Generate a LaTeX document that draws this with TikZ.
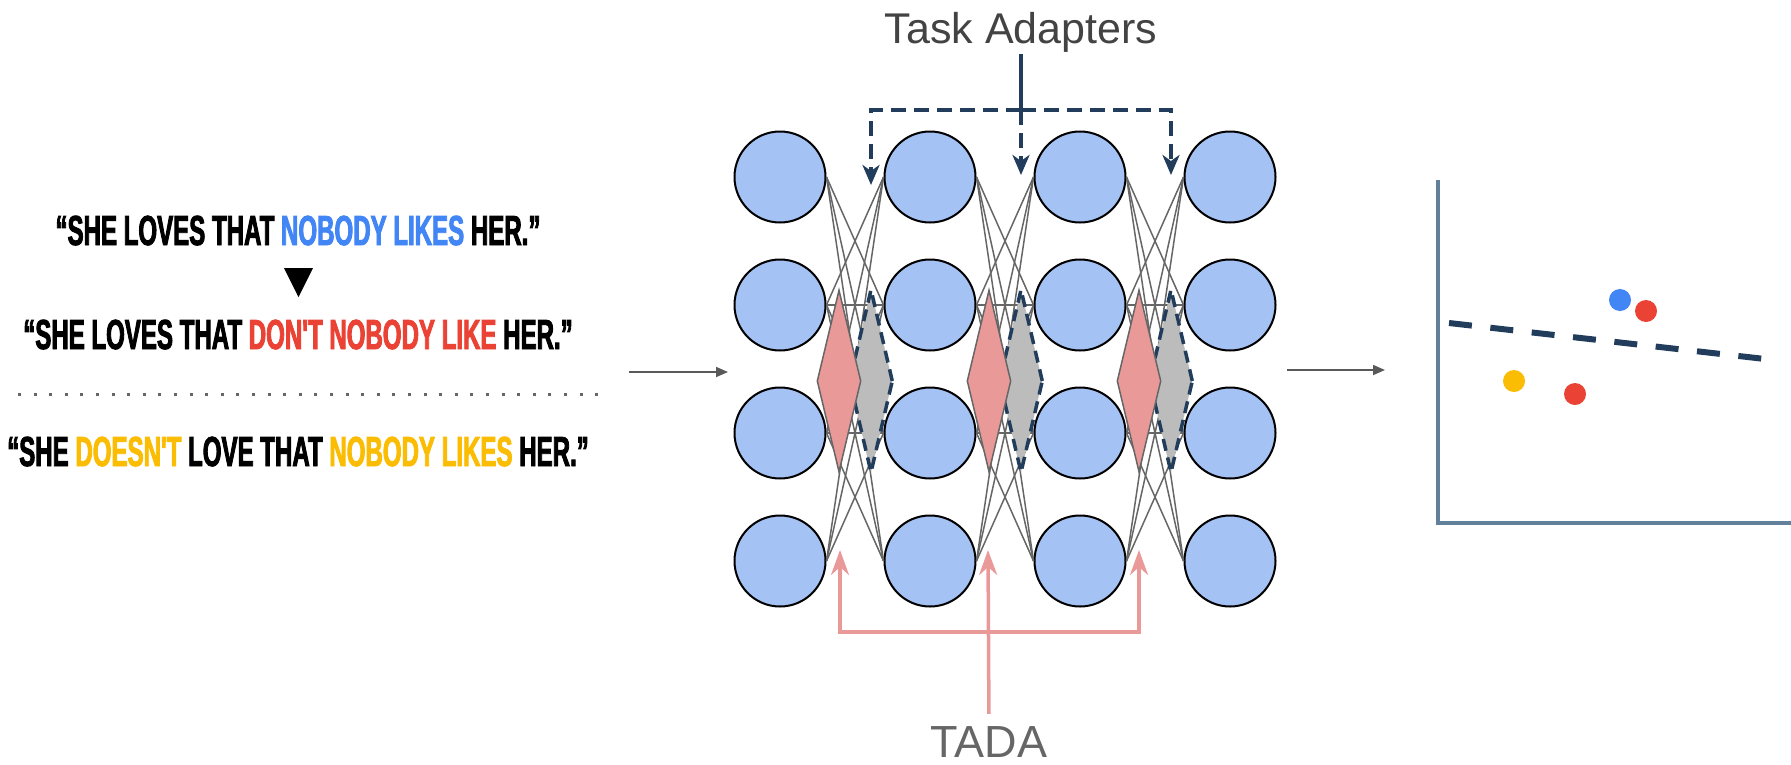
\documentclass[tikz,border=0pt]{standalone}
\usepackage{fontspec}
\setmainfont{Liberation Sans}
\newfontfamily\quotefont[FakeStretch=0.573,FakeBold=2,Ligatures=TeXOff]{Liberation Sans}
\usetikzlibrary{arrows.meta,shapes.geometric,calc}

\definecolor{nodeblue}{HTML}{A4C2F4}
\definecolor{wiregray}{HTML}{666666}
\definecolor{navy}{HTML}{213D5B}
\definecolor{tadapink}{HTML}{EA9999}
\definecolor{adgray}{HTML}{BCBCBC}
\definecolor{axisslate}{HTML}{62809A}
\definecolor{gblue}{HTML}{4285F4}
\definecolor{gred}{HTML}{EA4335}
\definecolor{gyellow}{HTML}{FBBC04}
\definecolor{labelgray}{HTML}{434343}
\definecolor{tadagray}{HTML}{666666}
\definecolor{arrowgray}{HTML}{595959}

\tikzset{
  neuron/.style={circle, draw=black, line width=2pt, fill=nodeblue,
    minimum size=91pt, inner sep=0pt},
  wire/.style={draw=wiregray, line width=1.5pt},
  adapter/.style={diamond, fill=adgray, draw=navy, line width=3.5pt,
    dash pattern=on 12pt off 7pt, minimum width=44pt, minimum height=184pt,
    inner sep=0pt},
  tadabox/.style={diamond, fill=tadapink, draw=wiregray, line width=1.5pt,
    minimum width=44pt, minimum height=182pt, inner sep=0pt},
  quote/.style={font=\quotefont\bfseries\fontsize{42}{48}\selectfont,
    inner sep=0pt, anchor=base},
  navysolid/.style={draw=navy, line width=3.5pt},
  navydash/.style={draw=navy, line width=3.5pt, dash pattern=on 15pt off 8pt,
    -{Stealth[length=20pt, width=17pt, inset=6pt]}},
  pinkline/.style={draw=tadapink, line width=3.5pt},
  pinkarrow/.style={pinkline, -{Stealth[length=25pt, width=18pt, inset=8pt]}},
  flow/.style={draw=arrowgray, line width=1.7pt,
    -{Triangle[length=12pt, width=10pt]}},
  axis/.style={draw=axisslate, line width=3.8pt},
  boundary/.style={draw=navy, line width=6pt, dash pattern=on 23pt off 18.6pt},
  dot/.style={circle, inner sep=0pt, minimum size=22pt},
}

\begin{document}
\begin{tikzpicture}[x=1pt, y=-1pt]
\useasboundingbox (0,0) rectangle (1791,764);

% ---- example sentences ----
\node[quote] (s1) at (298,245)
  {“SHE LOVES THAT \textcolor{gblue}{NOBODY LIKES} HER.”};
\fill (284,268) -- (313,268) -- (298.5,297) -- cycle;
\node[quote] (s2) at (298,349)
  {“SHE LOVES THAT \textcolor{gred}{DON'T NOBODY LIKE} HER.”};
\coordinate (sepL) at (18,394);
\coordinate (sepR) at (598,394);
\draw[draw=wiregray, line width=3pt, dash pattern=on 3pt off 12.6pt] (sepL) -- (sepR);
\node[quote] (s3) at (298,466)
  {“SHE \textcolor{gyellow}{DOESN'T} LOVE THAT \textcolor{gyellow}{NOBODY LIKES} HER.”};

% ---- input arrow ----
\coordinate (inL) at (629,372);
\coordinate (inR) at (728,372);
\draw[flow] (inL) -- (inR);

% ---- network ----
\foreach \c/\x in {1/780,2/930,3/1080,4/1230}
  \foreach \r/\y in {1/177,2/305,3/433,4/561}
    \node[neuron] (n\c\r) at (\x,\y) {};

% dense links between neighbouring layers (no straight top-top / bottom-bottom links)
\foreach \c/\d in {1/2,2/3,3/4}
  \foreach \r/\s in {1/2,1/3,1/4,2/1,2/2,2/3,2/4,3/1,3/2,3/3,3/4,4/1,4/2,4/3}
    \draw[wire] (n\c\r.east) -- (n\d\s.west);

\foreach \i/\x in {1/871,2/1021,3/1171}
  \node[adapter] (ad\i) at (\x,381) {};
\foreach \i/\x in {1/839,2/989,3/1139}
  \node[tadabox] (td\i) at (\x,381) {};

% ---- task adapters ----
\node[font=\fontsize{43}{48}\selectfont, text=labelgray, anchor=base,
  inner sep=2pt] (ta) at (1021,43) {Task Adapters};
\coordinate (tajoin) at (1021,110);
\coordinate (adtip1) at (871,185);
\coordinate (adtip2) at (1021,175);
\coordinate (adtip3) at (1171,175);
\draw[navysolid] (ta.south) -- (tajoin);
\draw[navydash] (tajoin) -| (adtip1);
\draw[navydash] (tajoin) -- (adtip2);
\draw[navydash] (tajoin) -| (adtip3);

% ---- TADA ----
\node[font=\fontsize{45}{50}\selectfont, text=tadagray, anchor=base,
  inner sep=0pt] (tada) at (989,757) {TADA};
\coordinate (tdjoin) at (989,632);
\coordinate (tdtip1) at (840,550);
\coordinate (tdtip2) at (988,550);
\coordinate (tdtip3) at (1139,550);
\draw[pinkarrow, shorten <=12pt] (tada.north) -- (tdtip2);
\draw[pinkarrow] (tdjoin) -| (tdtip1);
\draw[pinkarrow] (tdjoin) -| (tdtip3);

% ---- output arrow ----
\coordinate (outL) at (1287,370);
\coordinate (outR) at (1385,370);
\draw[flow] (outL) -- (outR);

% ---- embedding plot ----
\coordinate (ytop) at (1438,180);
\coordinate (origin) at (1438,523);
\coordinate (xend) at (1795,523);
\draw[axis] (ytop) -- (origin) -- (xend);
\coordinate (bL) at (1449,323);
\coordinate (bR) at (1765,359);
\draw[boundary] (bL) -- (bR);
\node[dot, fill=gblue] (p1) at (1620,300) {};
\node[dot, fill=gred] (p2) at (1646,311) {};
\node[dot, fill=gyellow] (p3) at (1514,381) {};
\node[dot, fill=gred] (p4) at (1575,394) {};
\end{tikzpicture}
\end{document}
